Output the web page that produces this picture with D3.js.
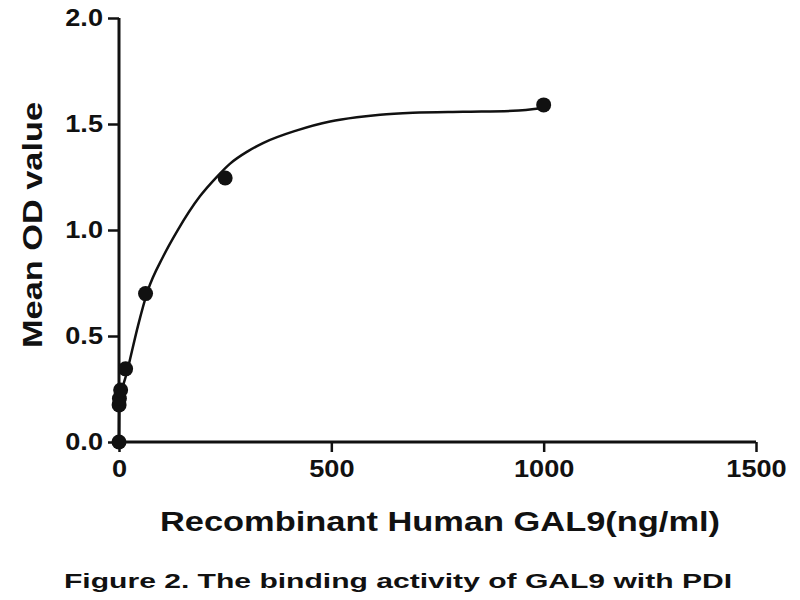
<!DOCTYPE html>
<html>
<head>
<meta charset="utf-8">
<script src="https://cdn.jsdelivr.net/npm/d3@7"></script>
<style>
  body { margin: 0; background: #fff; }
  text { font-family: "Liberation Sans", Arial, sans-serif; font-weight: bold; fill: #111; }
</style>
</head>
<body>
<div id="chart"></div>
<script>
// measured points
var concentration = [0, 0.24, 0.98, 3.9, 15.6, 62.5, 250, 1000];
var meanOD = [0.0, 0.175, 0.205, 0.245, 0.345, 0.70, 1.245, 1.59];

// fitted line
var curveX = [0, 1, 4, 9, 19, 26, 45, 68, 104, 137, 191, 231, 261, 304, 339, 419, 497, 560, 615, 692, 810, 928, 1000];
var curveY = [0, 0.17, 0.21, 0.26, 0.33, 0.39, 0.55, 0.715, 0.875, 0.995, 1.16, 1.252, 1.312, 1.372, 1.41, 1.47, 1.512, 1.532, 1.544, 1.553, 1.558, 1.562, 1.575];

var xTicks = [0, 500, 1000, 1500];
var yTicks = [0, 0.5, 1.0, 1.5, 2.0];

var svgWidth = 800;
var svgHeight = 600;

var margin = { top: 18, right: 44, bottom: 158, left: 119 };
var width = svgWidth - margin.left - margin.right;
var height = svgHeight - margin.top - margin.bottom;

var svg = d3.select("#chart")
    .append("svg")
    .attr("width", svgWidth)
    .attr("height", svgHeight);

var chartGroup = svg.append("g")
    .attr("transform", `translate(${margin.left}, ${margin.top})`);

var xScale = d3.scaleLinear().domain([0, 1500]).range([0, width]);
var yScale = d3.scaleLinear().domain([0, 2]).range([height, 0]);

var bottomAxis = d3.axisBottom(xScale).tickValues(xTicks).tickFormat(d3.format("d")).tickSize(10).tickPadding(9);
var leftAxis = d3.axisLeft(yScale).tickValues(yTicks).tickFormat(d3.format(".1f")).tickSize(11).tickPadding(5);

var xAxisG = chartGroup.append("g")
    .attr("transform", `translate(0, ${height})`)
    .call(bottomAxis);

var yAxisG = chartGroup.append("g")
    .call(leftAxis);

[xAxisG, yAxisG].forEach(function (g) {
    g.select(".domain").attr("stroke", "#111").attr("stroke-width", 3);
    g.selectAll(".tick line").attr("stroke", "#111").attr("stroke-width", 2.5);
    g.selectAll(".tick text")
        .style("font-size", "23px")
        .style("font-family", "'Liberation Sans', Arial, sans-serif")
        .style("font-weight", "bold")
        .attr("fill", "#111")
        .each(function () {
            // the reference glyphs are a little wider than Arial
            var w = this.getComputedTextLength();
            d3.select(this).attr("textLength", w * 1.18).attr("lengthAdjust", "spacingAndGlyphs");
        });
});
xAxisG.select(".domain").attr("d", `M0,0H${width}`);
yAxisG.select(".domain").attr("d", `M0,${height}V0`);

// fitted curve
var curveData = curveX.map(function (x, i) { return { x: x, y: curveY[i] }; });
var line = d3.line()
    .x(d => xScale(d.x))
    .y(d => yScale(d.y))
    .curve(d3.curveMonotoneX);

chartGroup.append("path")
    .datum(curveData)
    .attr("fill", "none")
    .attr("stroke", "#111")
    .attr("stroke-width", 2.5)
    .attr("d", line);

// points
var pointData = concentration.map(function (c, i) { return { x: c, y: meanOD[i] }; });
chartGroup.selectAll("circle")
    .data(pointData)
    .enter()
    .append("circle")
    .attr("cx", d => xScale(d.x))
    .attr("cy", d => yScale(d.y))
    .attr("r", 7.5)
    .attr("fill", "#111");

// axis titles
svg.append("text")
    .attr("transform", "translate(42, 225) rotate(-90)")
    .attr("text-anchor", "middle")
    .attr("textLength", 246)
    .attr("lengthAdjust", "spacingAndGlyphs")
    .style("font-size", "27px")
    .text("Mean OD value");

svg.append("text")
    .attr("x", 440)
    .attr("y", 531)
    .attr("text-anchor", "middle")
    .attr("textLength", 560)
    .attr("lengthAdjust", "spacingAndGlyphs")
    .style("font-size", "27px")
    .text("Recombinant Human GAL9(ng/ml)");

svg.append("text")
    .attr("x", 398)
    .attr("y", 588)
    .attr("text-anchor", "middle")
    .attr("textLength", 668)
    .attr("lengthAdjust", "spacingAndGlyphs")
    .style("font-size", "21px")
    .text("Figure 2. The binding activity of GAL9 with PDI");
</script>
</body>
</html>
